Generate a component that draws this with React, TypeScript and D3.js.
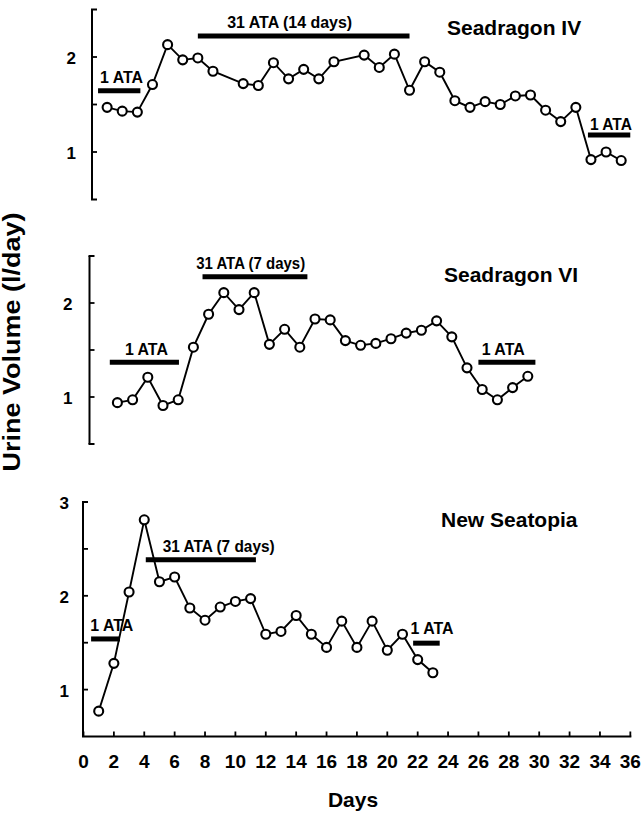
import React from 'react';
import * as d3 from 'd3';

// ---- Data: daily urine volume (l/day) per habitat ----
const seadragonIVDays = [1, 2, 3, 4, 5, 6, 7, 8, 10, 11, 12, 13, 14, 15, 16, 18, 19, 20, 21, 22, 23, 24, 25, 26, 27, 28, 29, 30, 31, 32, 33, 34, 35];
const seadragonIVVolume = [1.47, 1.43, 1.42, 1.71, 2.13, 1.97, 1.99, 1.85, 1.72, 1.70, 1.94, 1.77, 1.87, 1.77, 1.95, 2.02, 1.89, 2.03, 1.65, 1.95, 1.84, 1.54, 1.47, 1.53, 1.50, 1.59, 1.60, 1.44, 1.32, 1.47, 0.92, 1.00, 0.91];

const seadragonVIDays = [2, 3, 4, 5, 6, 7, 8, 9, 10, 11, 12, 13, 14, 15, 16, 17, 18, 19, 20, 21, 22, 23, 24, 25, 26, 27, 28, 29];
const seadragonVIVolume = [0.94, 0.97, 1.21, 0.91, 0.97, 1.53, 1.88, 2.11, 1.93, 2.11, 1.56, 1.72, 1.53, 1.83, 1.82, 1.60, 1.55, 1.57, 1.62, 1.68, 1.71, 1.81, 1.64, 1.31, 1.08, 0.97, 1.10, 1.22];

const newSeatopiaDays = [1, 2, 3, 4, 5, 6, 7, 8, 9, 10, 11, 12, 13, 14, 15, 16, 17, 18, 19, 20, 21, 22, 23];
const newSeatopiaVolume = [0.77, 1.28, 2.04, 2.81, 2.15, 2.20, 1.87, 1.74, 1.88, 1.94, 1.97, 1.59, 1.62, 1.79, 1.59, 1.45, 1.73, 1.45, 1.73, 1.42, 1.59, 1.32, 1.18];

// ---- Pressure phases (start day, end day, level in l/day units, label) ----
const seadragonIVPhaseStart = [0.4, 7, 32.8];
const seadragonIVPhaseEnd = [3.2, 21, 35.6];
const seadragonIVPhaseLevel = [1.645, 2.22, 1.18];
const seadragonIVPhaseLabel = ['1 ATA', '31 ATA (14 days)', '1 ATA'];

const seadragonVIPhaseStart = [1.5, 7.6, 25.75];
const seadragonVIPhaseEnd = [6.05, 14.5, 29.5];
const seadragonVIPhaseLevel = [1.37, 2.28, 1.37];
const seadragonVIPhaseLabel = ['1 ATA', '31 ATA (7 days)', '1 ATA'];

const newSeatopiaPhaseStart = [0.5, 4.1, 21.7];
const newSeatopiaPhaseEnd = [2.4, 11.35, 23.45];
const newSeatopiaPhaseLevel = [1.54, 2.385, 1.495];
const newSeatopiaPhaseLabel = ['1 ATA', '31 ATA (7 days)', '1 ATA'];

// ---- Axis ticks ----
const xTickValues = [0, 2, 4, 6, 8, 10, 12, 14, 16, 18, 20, 22, 24, 26, 28, 30, 32, 34, 36];
const yTicksShort = [1, 1.5, 2];
const yLabelsShort = [1, 2];
const yTicksTall = [1, 1.5, 2, 2.5];
const yLabelsTall = [1, 2, 3];

const W = 643;
const H = 816;
const FONT = "'Liberation Sans', Arial, Helvetica, sans-serif";

type Phase = { start: number; end: number; level: number; label: string };

function phasesFrom(start: number[], end: number[], level: number[], label: string[]): Phase[] {
  return start.map((s, i) => ({ start: s, end: end[i], level: level[i], label: label[i] }));
}

type Layout = {
  x0: number;
  kx: number;
  axisX: number;
  yTop: number;
  yBottom: number;
  yDomain: [number, number];
  yTicks: number[];
  yLabels: number[];
  labelEndX: number;
  titleX: number;
  titleY: number;
  labelDx: number[];
  labelDy: number[];
  labelLen: number[];
  bottomSerif: boolean;
  xAxis: boolean;
};

type PanelProps = {
  title: string;
  days: number[];
  volume: number[];
  phases: Phase[];
  layout: Layout;
};

function Panel({ title, days, volume, phases, layout }: PanelProps) {
  const x = d3.scaleLinear().domain([0, 36]).range([layout.x0, layout.x0 + 36 * layout.kx]);
  const y = d3.scaleLinear().domain(layout.yDomain).range([layout.yBottom, layout.yTop]);
  const pts = days.map((d, i) => [d, volume[i]] as [number, number]);
  const line = d3
    .line<[number, number]>()
    .x((p) => x(p[0]))
    .y((p) => y(p[1]));

  const ax = layout.axisX;
  const tickLen = 5;

  return (
    <g>
      {/* y axis with bracket ends */}
      <line x1={ax} x2={ax} y1={layout.yTop} y2={layout.yBottom} stroke="#000" strokeWidth={2} />
      <line x1={ax - 1} x2={ax + tickLen} y1={layout.yTop} y2={layout.yTop} stroke="#000" strokeWidth={2} />
      {layout.bottomSerif && (
        <line x1={ax - 1} x2={ax + tickLen} y1={layout.yBottom} y2={layout.yBottom} stroke="#000" strokeWidth={2} />
      )}
      {layout.yTicks.map((t) => (
        <line key={'yt' + t} x1={ax} x2={ax + tickLen} y1={y(t)} y2={y(t)} stroke="#000" strokeWidth={1.8} />
      ))}
      {layout.yLabels.map((t) => (
        <text
          key={'yl' + t}
          x={layout.labelEndX}
          y={y(t) + 1}
          dy="0.36em"
          textAnchor="end"
          fontFamily={FONT}
          fontWeight="bold"
          fontSize={17}
        >
          {t}
        </text>
      ))}

      {/* x axis (bottom panel only) */}
      {layout.xAxis && (
        <g>
          <line x1={ax - 1} x2={x(36) + 1} y1={layout.yBottom} y2={layout.yBottom} stroke="#000" strokeWidth={2} />
          {xTickValues.map((t) => (
            <line
              key={'xt' + t}
              x1={x(t)}
              x2={x(t)}
              y1={layout.yBottom}
              y2={layout.yBottom - tickLen}
              stroke="#000"
              strokeWidth={1.8}
            />
          ))}
          {xTickValues.map((t) => (
            <text
              key={'xl' + t}
              x={x(t)}
              y={layout.yBottom + 31}
              textAnchor="middle"
              fontFamily={FONT}
              fontWeight="bold"
              fontSize={19}
            >
              {t}
            </text>
          ))}
        </g>
      )}

      {/* pressure phase bars and labels */}
      {phases.map((p, i) => (
        <g key={'ph' + i}>
          <line x1={x(p.start)} x2={x(p.end)} y1={y(p.level)} y2={y(p.level)} stroke="#000" strokeWidth={5} />
          <text
            x={(x(p.start) + x(p.end)) / 2 + layout.labelDx[i]}
            y={y(p.level) - layout.labelDy[i]}
            textAnchor="middle"
            fontFamily={FONT}
            fontWeight="bold"
            fontSize={p.label.length > 5 ? 16.5 : 17}
            textLength={layout.labelLen[i]}
            lengthAdjust="spacingAndGlyphs"
          >
            {p.label}
          </text>
        </g>
      ))}

      {/* series */}
      <path d={line(pts) || ''} fill="none" stroke="#000" strokeWidth={1.9} />
      {pts.map((p, i) => (
        <circle key={'c' + i} cx={x(p[0])} cy={y(p[1])} r={4.5} fill="#fff" stroke="#000" strokeWidth={2.1} />
      ))}

      <text x={layout.titleX} y={layout.titleY} fontFamily={FONT} fontWeight="bold" fontSize={21}>
        {title}
      </text>
    </g>
  );
}

const topLayout: Layout = {
  x0: 92,
  kx: 15.12,
  axisX: 92,
  yTop: 9.5,
  yBottom: 199.5,
  yDomain: [0.5, 2.5],
  yTicks: yTicksShort,
  yLabels: yLabelsShort,
  labelEndX: 76,
  titleX: 447,
  titleY: 35,
  labelDx: [2.3, -14, 1.8],
  labelDy: [8, 8, 5],
  labelLen: [43, 125, 42],
  bottomSerif: true,
  xAxis: false,
};

const middleLayout: Layout = {
  x0: 87,
  kx: 15.2,
  axisX: 89.5,
  yTop: 256,
  yBottom: 444,
  yDomain: [0.5, 2.5],
  yTicks: yTicksShort,
  yLabels: yLabelsShort,
  labelEndX: 72.5,
  titleX: 444,
  titleY: 281.5,
  labelDx: [2, -4.3, -3.7],
  labelDy: [7, 7.5, 7],
  labelLen: [43, 109, 43],
  bottomSerif: true,
  xAxis: false,
};

const bottomLayout: Layout = {
  x0: 83.5,
  kx: 15.19,
  axisX: 83,
  yTop: 502,
  yBottom: 736.5,
  yDomain: [0.5, 3],
  yTicks: yTicksTall,
  yLabels: yLabelsTall,
  labelEndX: 69,
  titleX: 441,
  titleY: 527,
  labelDx: [6.2, 17.8, 5.6],
  labelDy: [8, 7.5, 8.7],
  labelLen: [43, 112, 43],
  bottomSerif: false,
  xAxis: true,
};

export default function App() {
  return (
    <svg
      width={W}
      height={H}
      viewBox={`0 0 ${W} ${H}`}
      style={{ position: 'absolute', left: 0, top: 0, background: '#fff' }}
    >
      <rect width={W} height={H} fill="#fff" />
      <Panel
        title="Seadragon IV"
        days={seadragonIVDays}
        volume={seadragonIVVolume}
        phases={phasesFrom(seadragonIVPhaseStart, seadragonIVPhaseEnd, seadragonIVPhaseLevel, seadragonIVPhaseLabel)}
        layout={topLayout}
      />
      <Panel
        title="Seadragon VI"
        days={seadragonVIDays}
        volume={seadragonVIVolume}
        phases={phasesFrom(seadragonVIPhaseStart, seadragonVIPhaseEnd, seadragonVIPhaseLevel, seadragonVIPhaseLabel)}
        layout={middleLayout}
      />
      <Panel
        title="New Seatopia"
        days={newSeatopiaDays}
        volume={newSeatopiaVolume}
        phases={phasesFrom(newSeatopiaPhaseStart, newSeatopiaPhaseEnd, newSeatopiaPhaseLevel, newSeatopiaPhaseLabel)}
        layout={bottomLayout}
      />
      <text
        transform="translate(20,342) rotate(-90)"
        textAnchor="middle"
        fontFamily={FONT}
        fontWeight="bold"
        fontSize={23}
        textLength={259}
        lengthAdjust="spacingAndGlyphs"
      >
        Urine Volume  (l/day)
      </text>
      <text x={353} y={807} textAnchor="middle" fontFamily={FONT} fontWeight="bold" fontSize={21}>
        Days
      </text>
    </svg>
  );
}
